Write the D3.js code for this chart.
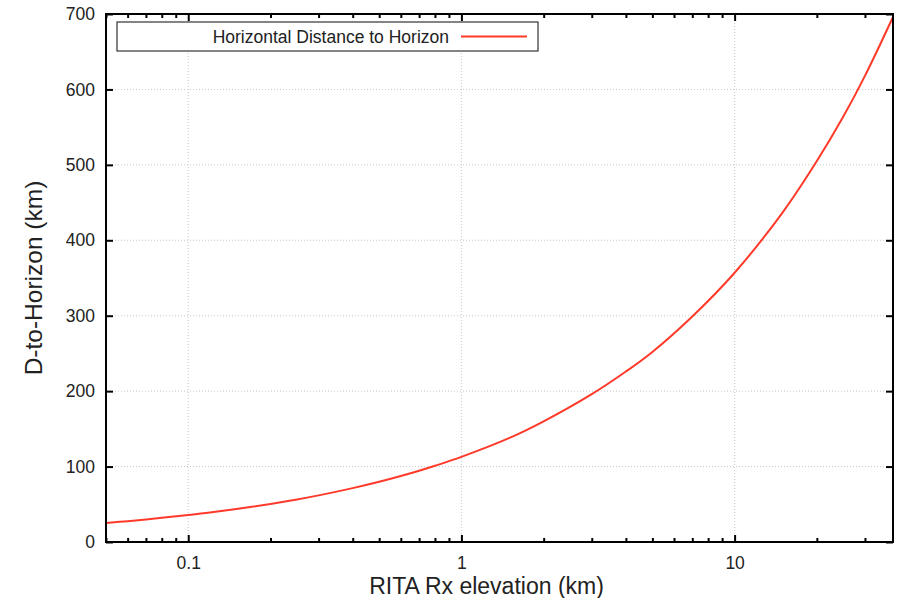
<!DOCTYPE html>
<html>
<head>
<meta charset="utf-8">
<script src="https://cdn.jsdelivr.net/npm/d3@7"></script>
<style>
  body { margin: 0; background: #fff; }
  text { font-family: "Liberation Sans", Arial, sans-serif; fill: #222; }
</style>
</head>
<body>
<div id="chart"></div>
<script>
"use strict";

// values
var elevation = [0.05, 0.06, 0.08, 0.1, 0.12, 0.15, 0.2, 0.25, 0.3, 0.4, 0.5, 0.6, 0.7, 0.8, 1,
	1.5, 2, 3, 4, 5, 7, 10, 15, 20, 25, 30, 38];
var distance = [25.2, 27.6, 32, 35.7, 39, 43.7, 50.5, 56.4, 61.8, 71.4, 79.8, 87.4, 94.4, 101, 112.9,
	138, 160, 196, 226, 252, 299, 357, 437, 505, 564, 618, 696];
var xTickValues = [0.1, 1, 10];
var xTickLabels = ["0.1", "1", "10"];
var yTickValues = [0, 100, 200, 300, 400, 500, 600, 700];
var seriesName = "Horizontal Distance to Horizon";

var canvasWidth = 899, canvasHeight = 598;
var margin = {top: 14, right: 6, bottom: 56, left: 106};
var width = canvasWidth - margin.left - margin.right;
var height = canvasHeight - margin.top - margin.bottom;

var x = d3.scaleLog().domain([0.05, 38]).range([0, width]);
var y = d3.scaleLinear().domain([0, 700]).range([height, 0]);

var minorX = [];
[0.01, 0.1, 1, 10].forEach(function(dec) {
	for (var k = 2; k <= 9; k++) {
		var v = dec * k;
		if (v >= 0.05 && v <= 38) minorX.push(v);
	}
});

var svg = d3.select("#chart")
	.append("svg")
		.attr("width", canvasWidth)
		.attr("height", canvasHeight)
	.append("g")
		.attr("transform", "translate(" + margin.left + "," + margin.top + ")");

//
// Grid
//
svg.append("g").selectAll("line")
	.data(xTickValues)
	.enter().append("line")
		.attr("x1", function(d) { return x(d); })
		.attr("x2", function(d) { return x(d); })
		.attr("y1", 0).attr("y2", height)
		.attr("stroke", "#c8c8c8").attr("stroke-dasharray", "1,2");

svg.append("g").selectAll("line")
	.data(yTickValues.slice(1, -1))
	.enter().append("line")
		.attr("x1", 0).attr("x2", width)
		.attr("y1", function(d) { return y(d); })
		.attr("y2", function(d) { return y(d); })
		.attr("stroke", "#c8c8c8").attr("stroke-dasharray", "1,2");

//
// Axes (ticks pointing inward, mirrored)
//
function styleAxis(g) {
	g.select(".domain").remove();
	g.selectAll(".tick line").attr("stroke", "#000").attr("stroke-width", 2);
	g.selectAll(".tick text").attr("font-size", 17.5).attr("fill", "#222")
		.attr("font-family", "Liberation Sans, Arial, sans-serif");
}

svg.append("g")
	.attr("transform", "translate(0," + height + ")")
	.call(d3.axisBottom(x).tickValues(xTickValues).tickSize(-7).tickPadding(15)
		.tickFormat(function(d, i) { return xTickLabels[i]; }))
	.call(styleAxis);

svg.append("g")
	.attr("transform", "translate(0," + height + ")")
	.call(d3.axisBottom(x).tickValues(minorX).tickSize(-4).tickFormat(""))
	.call(styleAxis);

svg.append("g")
	.call(d3.axisTop(x).tickValues(xTickValues).tickSize(-7).tickFormat(""))
	.call(styleAxis);

svg.append("g")
	.call(d3.axisTop(x).tickValues(minorX).tickSize(-4).tickFormat(""))
	.call(styleAxis);

svg.append("g")
	.call(d3.axisLeft(y).tickValues(yTickValues).tickSize(-7).tickPadding(11))
	.call(styleAxis);

svg.append("g")
	.attr("transform", "translate(" + width + ",0)")
	.call(d3.axisRight(y).tickValues(yTickValues).tickSize(-7).tickFormat(""))
	.call(styleAxis);

//
// Line
//
var pts = elevation.map(function(e, i) { return [e, distance[i]]; });

svg.append("path")
	.datum(pts)
	.attr("fill", "none")
	.attr("stroke", "#ff3a2a")
	.attr("stroke-width", 2)
	.attr("d", d3.line()
		.x(function(d) { return x(d[0]); })
		.y(function(d) { return y(d[1]); })
		.curve(d3.curveCatmullRom));

//
// Frame
//
svg.append("rect")
	.attr("width", width).attr("height", height)
	.attr("fill", "none").attr("stroke", "#000").attr("stroke-width", 2);

//
// Legend
//
var legend = svg.append("g").attr("transform", "translate(11,8)");
legend.append("rect")
	.attr("x", 0).attr("y", 0).attr("width", 421).attr("height", 29)
	.attr("fill", "#fff").attr("stroke", "#333").attr("stroke-width", 1.2);
legend.append("text")
	.attr("x", 332).attr("y", 20.5)
	.attr("text-anchor", "end")
	.attr("font-size", 17.5)
	.text(seriesName);
legend.append("line")
	.attr("x1", 344).attr("x2", 410).attr("y1", 14.5).attr("y2", 14.5)
	.attr("stroke", "#ff3a2a").attr("stroke-width", 2);

//
// Axis titles
//
svg.append("text")
	.attr("x", 380.5)
	.attr("y", height + 52)
	.attr("text-anchor", "middle")
	.attr("font-size", 23)
	.text("RITA Rx elevation (km)");

svg.append("text")
	.attr("transform", "translate(" + (-64) + "," + (height / 2) + ") rotate(-90)")
	.attr("text-anchor", "middle")
	.attr("font-size", 24.5)
	.text("D-to-Horizon (km)");
</script>
</body>
</html>
